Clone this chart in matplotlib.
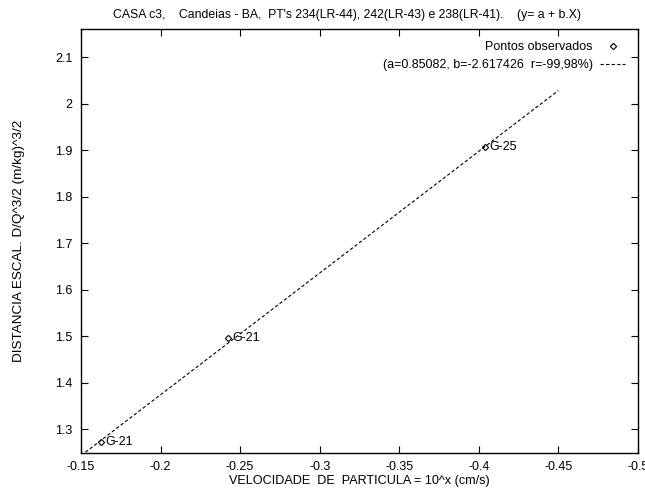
import numpy as np
import matplotlib
matplotlib.use("Agg")
import matplotlib.pyplot as plt

plt.rcParams['font.family'] = ['Liberation Sans', 'DejaVu Sans']

# observed points
vel_x = [-0.1626, -0.2424, -0.4039]
dist_y = [1.2733, 1.4957, 1.9077]
point_labels = ["G-21", "G-21", "G-25"]

# fit  y = a + b.X
a = 0.85082
b = -2.617426
fit_range = [-0.15, -0.45]

xticks = [-0.15, -0.2, -0.25, -0.3, -0.35, -0.4, -0.45, -0.5]
yticks = [1.3, 1.4, 1.5, 1.6, 1.7, 1.8, 1.9, 2.0, 2.1]

fig = plt.figure(figsize=(6.45, 4.88), dpi=100)
ax = fig.add_axes([0.1256, 0.0717, 0.989 - 0.1256, 0.9406 - 0.0717])

ax.plot(vel_x, dist_y, linestyle='none', marker='D', markersize=3.2,
        markerfacecolor='white', markeredgecolor='black', markeredgewidth=0.8,
        label="Pontos observados")

xf = np.linspace(fit_range[0], fit_range[1], 100)
ax.plot(xf, a + b * xf, color='black', linewidth=0.8, linestyle=(0, (3, 2)),
        label="(a=0.85082, b=-2.617426  r=-99,98%)")

for x, y, t in zip(vel_x, dist_y, point_labels):
    ax.annotate(t, (x, y), xytext=(3, 0), textcoords='offset points',
                ha='left', va='center', fontsize=9)

ax.set_xlim(-0.15, -0.5)
ax.set_ylim(1.249, 2.161)
ax.set_xticks(xticks)
ax.set_xticklabels(["-0.15", "-0.2", "-0.25", "-0.3", "-0.35", "-0.4", "-0.45", "-0.5"])
ax.set_yticks(yticks)
ax.set_yticklabels(["1.3", "1.4", "1.5", "1.6", "1.7", "1.8", "1.9", "2", "2.1"])
ax.tick_params(direction='in', length=5, width=0.8, top=True, right=True,
               labelsize=9, pad=6)
for s in ax.spines.values():
    s.set_linewidth(1.0)

ax.set_xlabel("VELOCIDADE  DE  PARTICULA = 10^x (cm/s)", fontsize=9.1, labelpad=1)
ax.set_ylabel("DISTANCIA ESCAL. D/Q^3/2 (m/kg)^3/2", fontsize=9.7, labelpad=22)

fig.text(0.538, 0.969, "CASA c3,    Candeias - BA,  PT's 234(LR-44), 242(LR-43) e 238(LR-41).    (y= a + b.X)",
         ha='center', va='center', fontsize=8.85)

leg = ax.legend(loc='upper right', frameon=False, markerfirst=False, fontsize=9,
                handlelength=2.0, handletextpad=0.6, borderaxespad=0.6,
                labelspacing=0.45)
for t in leg.get_texts():
    t.set_ha('right')

fig.savefig("out.png", dpi=100)
